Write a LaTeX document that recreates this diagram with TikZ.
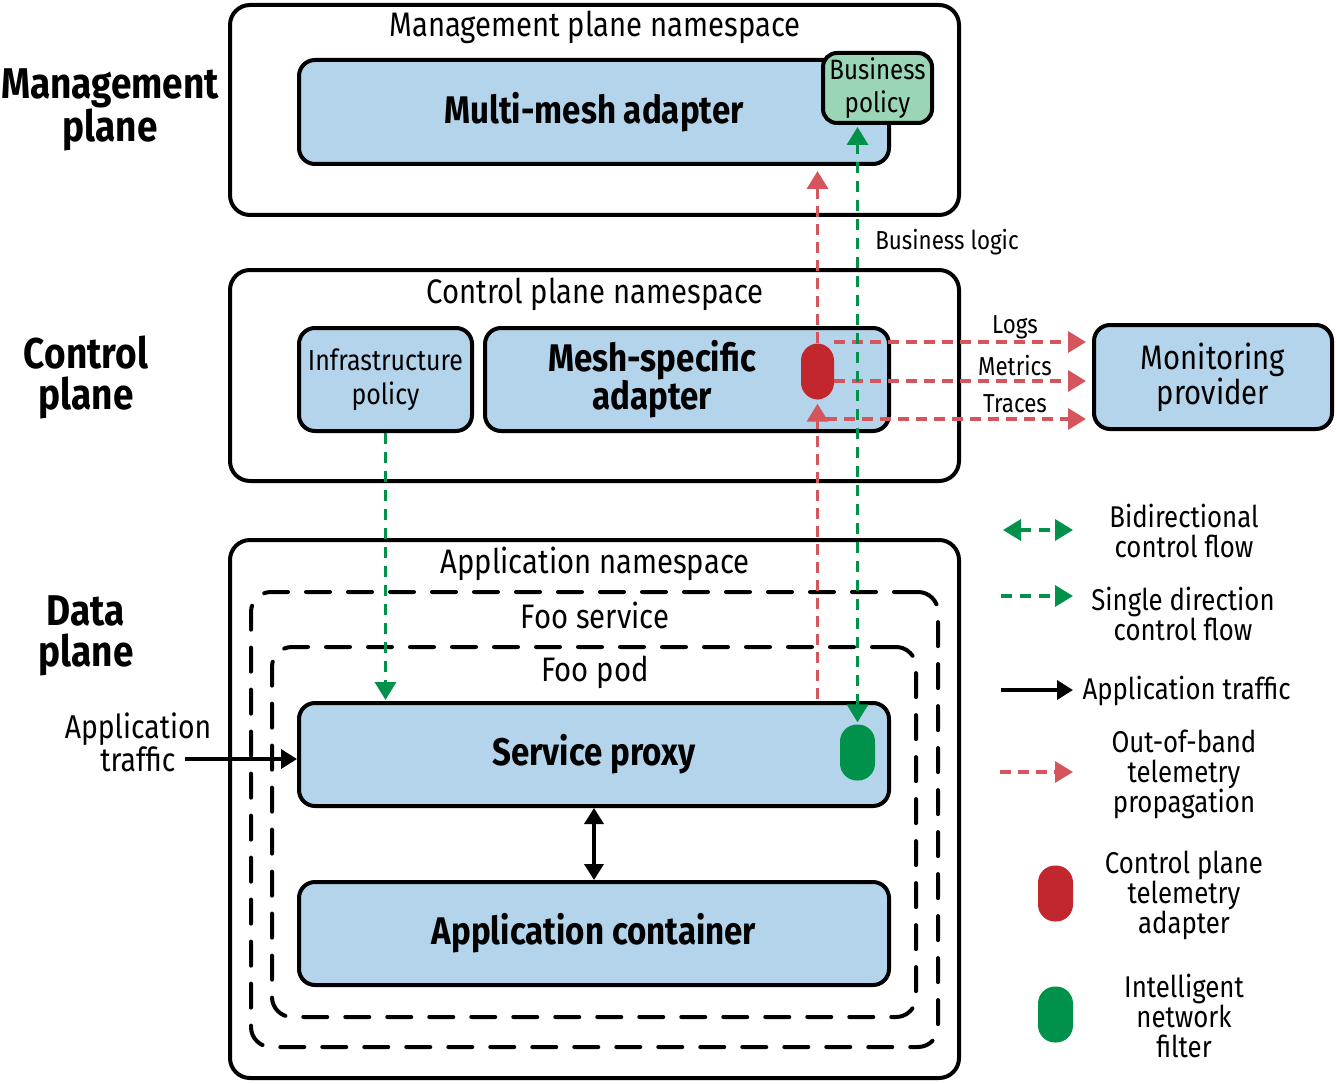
\documentclass[tikz,border=0pt]{standalone}
\usepackage{fontspec}
\setmainfont[FakeStretch=0.86]{Fira Sans}
\usetikzlibrary{positioning, arrows.meta}

\definecolor{boxblue}{HTML}{B3D4EA}
\definecolor{policygreen}{HTML}{9AD5B5}
\definecolor{flowgreen}{HTML}{00924A}
\definecolor{pillred}{HTML}{C1272D}
\definecolor{telered}{HTML}{D4555B}

\tikzset{
  plane/.style={draw, line width=4pt, rounded corners=20pt, minimum width=729pt},
  dashbox/.style={draw, line width=4pt, rounded corners=20pt, dash pattern=on 24pt off 18pt, line cap=round},
  comp/.style={draw, line width=4pt, rounded corners=16pt, fill=boxblue, align=center, inner sep=0pt},
  boldtxt/.style={font=\bfseries\fontsize{38.5}{38}\selectfont},
  pill/.style={rounded corners=17pt, minimum width=35pt, minimum height=56pt, inner sep=0pt},
  nstitle/.style={font=\fontsize{34}{34}\selectfont},
  sidelabel/.style={font=\bfseries\fontsize{43}{41}\selectfont, align=center},
  legendtxt/.style={font=\fontsize{30}{30}\selectfont, align=center},
  smalltxt/.style={font=\fontsize{26}{28}\selectfont},
  tele/.style={telered, line width=3.5pt, dash pattern=on 11pt off 7pt, -{Triangle[length=18pt,width=21pt]}},
  ctrlflow/.style={flowgreen, line width=3.5pt, dash pattern=on 11pt off 8pt, -{Triangle[length=18pt,width=21pt]}},
  bidir/.style={ctrlflow, {Triangle[length=18pt,width=21pt]}-{Triangle[length=18pt,width=21pt]}},
  traffic/.style={black, line width=3.5pt, -{Triangle[length=16pt,width=19pt]}},
  twoway/.style={traffic, {Triangle[length=16pt,width=19pt]}-{Triangle[length=16pt,width=19pt]}}
}

\begin{document}
\begin{tikzpicture}[x=1pt, y=-1pt]
  \useasboundingbox (0,0) rectangle (1337,1083);

  \begin{scope}
    \node (mgmt) [plane, minimum height=210pt] at (594.5,110) {};
    \node (ctrl) [plane, minimum height=211pt] at (594.5,375.5) {};
    \node (data) [plane, minimum height=538pt] at (594.5,809) {};
    \node (foosvc) [dashbox, minimum width=687pt, minimum height=455pt] at (594.5,819.5) {};
    \node (foopod) [dashbox, minimum width=644pt, minimum height=370pt] at (594,832) {};
  \end{scope}

  \node (mgmttitle) [nstitle] at (595,27) {Management plane namespace};
  \node (ctrltitle) [nstitle] at (595,294) {Control plane namespace};
  \node (datatitle) [nstitle] at (595,564) {Application namespace};
  \node (foosvctitle) [nstitle] at (595,615) {Foo service};
  \node (foopodtitle) [nstitle] at (595,672) {Foo pod};

  \node (mgmtlabel) [sidelabel] at (110,110) {Management\\plane};
  \node (ctrllabel) [sidelabel] at (86,377) {Control\\plane};
  \node (datalabel) [sidelabel] at (86,636) {Data\\plane};

  \node (multimesh) [comp, minimum width=590pt, minimum height=104pt, boldtxt] at (594,112) {Multi-mesh adapter};
  \node (bizpolicy) [comp, fill=policygreen, minimum width=109pt, minimum height=70pt, rounded corners=14pt, font=\fontsize{28}{33}\selectfont] at (877.5,88) {Business\\policy};

  \node (infra) [comp, minimum width=173pt, minimum height=103pt, font=\fontsize{29}{34}\selectfont] at (385.5,379.5) {Infrastructure\\policy};
  \node (meshadapter) [comp, minimum width=404pt, minimum height=103pt] at (687,379.5) {};
  \node (meshtxt) [boldtxt, align=center] at (652,379) {Mesh-specific\\adapter};
  \node (redpill) [pill, fill=pillred, minimum width=33pt] at (817.5,371.5) {};
  \node (monitor) [comp, minimum width=238pt, minimum height=104pt, font=\fontsize{34}{33}\selectfont] at (1213,377) {Monitoring\\provider};

  \node (proxy) [comp, minimum width=590pt, minimum height=103pt, boldtxt] at (594,754.5) {Service proxy};
  \node (greenpill) [pill, fill=flowgreen] at (857.5,752.5) {};
  \node (appcont) [comp, minimum width=590pt, minimum height=103pt, boldtxt] at (594,933.5) {Application container};

  \node (apptraffic) [legendtxt, font=\fontsize{33}{30}\selectfont] at (138,742) {Application\\traffic};
  \coordinate (trafsrc) at (185,759);

  \node (bizlogic) [smalltxt] at (947,242) {Business logic};
  \node (logs) [smalltxt] at (1015,327) {Logs};
  \node (metrics) [smalltxt] at (1015,366) {Metrics};
  \node (traces) [smalltxt] at (1015,404) {Traces};

  \coordinate (logsrc) at (834,342);
  \coordinate (metricsrc) at (834,381);
  \coordinate (tracesrc) at (826,419);

  \begin{scope}
    \draw[tele, shorten >=6pt] (logsrc) -- (monitor.west |- logsrc);
    \draw[tele, shorten >=6pt] (metricsrc) -- (monitor.west |- metricsrc);
    \draw[tele, shorten >=6pt] (tracesrc) -- (monitor.west |- tracesrc);
    \draw[tele, shorten <=2pt, shorten >=4pt] (proxy.north -| redpill) -- (redpill.south);
    \draw[tele, shorten >=5pt] (redpill.north) -- (multimesh.south -| redpill);
  \end{scope}

  \draw[bidir, shorten >=2pt, shorten <=2pt] (greenpill.north) -- (bizpolicy.south -| greenpill);
  \draw[ctrlflow, shorten >=1pt] (infra.south) -- (proxy.north -| infra);

  \draw[traffic] (trafsrc) -- (proxy.west |- trafsrc);
  \draw[twoway] (proxy.south) -- (appcont.north);

  \coordinate (lg1a) at (1003,530);
  \coordinate (lg1b) at (1073,530);
  \coordinate (lg2a) at (1001,596);
  \coordinate (lg2b) at (1073,596);
  \coordinate (lg3a) at (1001,690);
  \coordinate (lg3b) at (1073,690);
  \coordinate (lg4a) at (1000,772);
  \coordinate (lg4b) at (1073,772);

  \draw[bidir] (lg1a) -- (lg1b);
  \draw[ctrlflow] (lg2a) -- (lg2b);
  \draw[traffic] (lg3a) -- (lg3b);
  \draw[tele] (lg4a) -- (lg4b);

  \node (lg1txt) [legendtxt] at (1184,531) {Bidirectional\\control flow};
  \node (lg2txt) [legendtxt] at (1183,614) {Single direction\\control flow};
  \node (lg3txt) [legendtxt, anchor=west] at (1079,691) {Application traffic};
  \node (lg4txt) [legendtxt] at (1184,774) {Out-of-band\\telemetry\\propagation};

  \node (lg5pill) [pill, fill=pillred] at (1055.5,893.5) {};
  \node (lg5txt) [legendtxt] at (1184,895) {Control plane\\telemetry\\adapter};
  \node (lg6pill) [pill, fill=flowgreen] at (1055.5,1014.5) {};
  \node (lg6txt) [legendtxt] at (1184,1016) {Intelligent\\network\\filter};
\end{tikzpicture}
\end{document}
